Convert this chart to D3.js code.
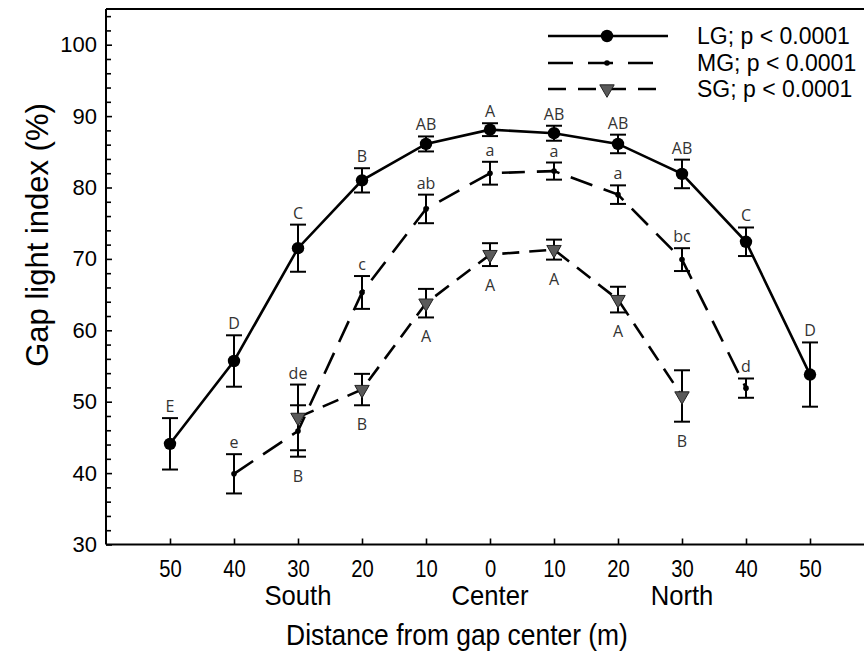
<!DOCTYPE html>
<html>
<head>
<meta charset="utf-8">
<script src="https://cdn.jsdelivr.net/npm/d3@7/dist/d3.min.js"></script>
<style>
  html, body { margin: 0; padding: 0; background: #fff; }
  svg { display: block; }
</style>
</head>
<body>
<svg id="chart" width="864" height="658"></svg>
<script>
// Transect positions (m) from the south edge, through the gap center, to the north edge
const categories = ["50", "40", "30", "20", "10", "0", "10", "20", "30", "40", "50"];
const directionLabels = ["South", "Center", "North"];
const directionIndex = [2, 5, 8];

// Large gaps (LG)
const lgMean = [44.1, 55.7, 71.5, 81.0, 86.1, 88.1, 87.6, 86.1, 81.9, 72.4, 53.8];
const lgErr = [3.6, 3.6, 3.3, 1.7, 1.05, 0.9, 1.05, 1.3, 2.0, 2.0, 4.5];
const lgLetters = ["E", "D", "C", "B", "AB", "A", "AB", "AB", "AB", "C", "D"];

// Medium gaps (MG)
const mgMean = [null, 39.9, 45.9, 65.3, 77.0, 82.0, 82.3, 79.0, 69.9, 51.9, null];
const mgErr = [null, 2.75, 3.6, 2.3, 2.0, 1.6, 1.2, 1.3, 1.6, 1.35, null];
const mgLetters = [null, "e", "de", "c", "ab", "a", "a", "a", "bc", "d", null];

// Small gaps (SG)
const sgMean = [null, null, 47.8, 51.7, 63.8, 70.6, 71.3, 64.3, 50.8, null, null];
const sgErr = [null, null, 4.6, 2.2, 2.0, 1.6, 1.4, 1.8, 3.6, null, null];
const sgLetters = [null, null, "B", "B", "A", "A", "A", "A", "B", null, null];

const legendLabels = ["LG; p < 0.0001", "MG; p < 0.0001", "SG; p < 0.0001"];

const yTicksMajor = d3.range(30, 101, 10);
const yTicksMinor = d3.range(32, 105, 2).filter(v => v % 10 !== 0);

const svg = d3.select("#chart");
const plotLeft = 106, plotTop = 9, plotBottom = 544.5, plotRight = 864;

const x = d3.scaleLinear().domain([-1, 10]).range([plotLeft, 810]);
const y = d3.scaleLinear().domain([30, 105]).range([plotBottom, plotTop]);

const sansFont = "'Liberation Sans', Arial, sans-serif";
const letterFont = "'Open Sans', 'DejaVu Sans', sans-serif";

// ---- axes ----
const yMinor = svg.append("g").attr("transform", `translate(${plotLeft},0)`)
  .call(d3.axisLeft(y).tickValues(yTicksMinor).tickSize(-5).tickSizeOuter(0).tickFormat(""));
yMinor.select(".domain").remove();
yMinor.selectAll("line").attr("stroke", "#000").attr("stroke-width", 1.6);

const yAxis = svg.append("g").attr("transform", `translate(${plotLeft},0)`)
  .call(d3.axisLeft(y).tickValues(yTicksMajor).tickSize(-6).tickSizeOuter(0).tickPadding(9));
yAxis.select(".domain").remove();
yAxis.selectAll("line").attr("stroke", "#000").attr("stroke-width", 1.6);
yAxis.selectAll("text").attr("font-family", sansFont).attr("font-size", 22).attr("fill", "#000");

const xAxis = svg.append("g").attr("transform", `translate(0,${plotBottom})`)
  .call(d3.axisBottom(x).tickValues(d3.range(0, 11)).tickSize(-6).tickSizeOuter(0)
    .tickPadding(16).tickFormat(i => categories[i]));
xAxis.select(".domain").remove();
xAxis.selectAll("line").attr("stroke", "#000").attr("stroke-width", 1.6);
xAxis.selectAll("text").attr("font-family", sansFont).attr("font-size", 23).attr("fill", "#000")
  .attr("transform", "scale(0.88,1)");

// frame: left spine, bottom axis and top rule
const frame = svg.append("g").attr("stroke", "#000").attr("stroke-width", 2).attr("fill", "none");
frame.append("line").attr("x1", plotLeft).attr("x2", plotLeft).attr("y1", plotTop).attr("y2", plotBottom);
frame.append("line").attr("x1", plotLeft).attr("x2", plotRight).attr("y1", plotBottom).attr("y2", plotBottom);
frame.append("line").attr("x1", plotLeft).attr("x2", plotRight).attr("y1", plotTop).attr("y2", plotTop);

// direction labels under the tick labels
svg.append("g").selectAll("text").data(directionLabels).join("text")
  .attr("transform", (d, i) => `translate(${x(directionIndex[i])},605) scale(0.95,1)`)
  .attr("text-anchor", "middle")
  .attr("font-family", sansFont).attr("font-size", 27).attr("fill", "#000")
  .text(d => d);

// axis titles
svg.append("text")
  .attr("transform", "translate(457,645) scale(0.88,1)")
  .attr("text-anchor", "middle")
  .attr("font-family", sansFont).attr("font-size", 30).attr("fill", "#000")
  .text("Distance from gap center (m)");

svg.append("text")
  .attr("transform", "translate(48,235) rotate(-90)")
  .attr("text-anchor", "middle")
  .attr("font-family", sansFont).attr("font-size", 31).attr("fill", "#000")
  .text("Gap light index (%)");

// ---- series ----
function rows(mean, err, letters) {
  return mean.map((m, i) => ({ i, m, e: err[i], t: letters[i] })).filter(d => d.m != null);
}
const lg = rows(lgMean, lgErr, lgLetters);
const mg = rows(mgMean, mgErr, mgLetters);
const sg = rows(sgMean, sgErr, sgLetters);

const line = d3.line().x(d => x(d.i)).y(d => y(d.m));

const series = [
  { data: sg, dash: "17,10", width: 2.6 },
  { data: mg, dash: "23,12", width: 2.6 },
  { data: lg, dash: null, width: 2.6 }
];

series.forEach(s => {
  svg.append("path").datum(s.data)
    .attr("d", line)
    .attr("fill", "none").attr("stroke", "#000")
    .attr("stroke-width", s.width)
    .attr("stroke-dasharray", s.dash);
});

// error bars with caps
function errorBars(data) {
  const g = svg.append("g").attr("stroke", "#000").attr("stroke-width", 2);
  const cap = 8;
  data.forEach(d => {
    const cx = x(d.i), y1 = y(d.m + d.e), y0 = y(d.m - d.e);
    g.append("line").attr("x1", cx).attr("x2", cx).attr("y1", y1).attr("y2", y0);
    g.append("line").attr("x1", cx - cap).attr("x2", cx + cap).attr("y1", y1).attr("y2", y1);
    g.append("line").attr("x1", cx - cap).attr("x2", cx + cap).attr("y1", y0).attr("y2", y0);
  });
}
errorBars(sg);
errorBars(mg);
errorBars(lg);

// markers
const triangle = d3.symbol().type(d3.symbolTriangle).size(90);
svg.append("g").selectAll("path").data(sg).join("path")
  .attr("d", triangle)
  .attr("transform", d => `translate(${x(d.i)},${y(d.m)}) rotate(180)`)
  .attr("fill", "#5a5a5a").attr("stroke", "#222").attr("stroke-width", 1);

svg.append("g").selectAll("circle").data(mg).join("circle")
  .attr("cx", d => x(d.i)).attr("cy", d => y(d.m)).attr("r", 2.8).attr("fill", "#000");

svg.append("g").selectAll("circle").data(lg).join("circle")
  .attr("cx", d => x(d.i)).attr("cy", d => y(d.m)).attr("r", 6.2).attr("fill", "#000");

// significance letters: LG and MG above the bars, SG below
const upper = d => d.m + d.e;
const lower = d => d.m - d.e;
const sgAt = i => sg.find(d => d.i === i);
const mgAt = i => mg.find(d => d.i === i);

function letters(data, posFn) {
  svg.append("g").selectAll("text").data(data).join("text")
    .attr("x", d => x(d.i)).attr("y", posFn)
    .attr("text-anchor", "middle")
    .attr("font-family", letterFont).attr("font-size", 16).attr("fill", "#333")
    .text(d => d.t);
}
letters(lg, d => y(upper(d)) - 6);
letters(mg, d => {
  const s = sgAt(d.i);
  const topVal = s ? Math.max(upper(d), upper(s)) : upper(d);
  return y(topVal) - 6;
});
letters(sg, d => {
  const m = mgAt(d.i);
  const lowVal = m ? Math.min(lower(d), lower(m)) : lower(d);
  return y(lowVal) + 25;
});

// ---- legend ----
const legendRows = [
  { label: legendLabels[0], dash: null, marker: "circle", r: 6.2, y: 36 },
  { label: legendLabels[1], dash: "25,15", marker: "dot", r: 2.8, y: 63 },
  { label: legendLabels[2], dash: "18,12", marker: "triangle", r: 0, y: 89 }
];
const legend = svg.append("g");
const lx0 = 548, lx1 = 668, lxm = 607, ltx = 697;
legendRows.forEach(r => {
  legend.append("line")
    .attr("x1", lx0).attr("x2", lx1).attr("y1", r.y).attr("y2", r.y)
    .attr("stroke", "#000").attr("stroke-width", 2.6)
    .attr("stroke-dasharray", r.dash);
  if (r.marker === "triangle") {
    legend.append("path").attr("d", triangle)
      .attr("transform", `translate(${lxm},${r.y}) rotate(180)`)
      .attr("fill", "#5a5a5a").attr("stroke", "#222").attr("stroke-width", 1);
  } else {
    legend.append("circle").attr("cx", lxm).attr("cy", r.y).attr("r", r.r).attr("fill", "#000");
  }
  legend.append("text")
    .attr("x", ltx).attr("y", r.y).attr("dy", "0.35em")
    .attr("font-family", sansFont).attr("font-size", 23).attr("fill", "#000")
    .text(r.label);
});
</script>
</body>
</html>
